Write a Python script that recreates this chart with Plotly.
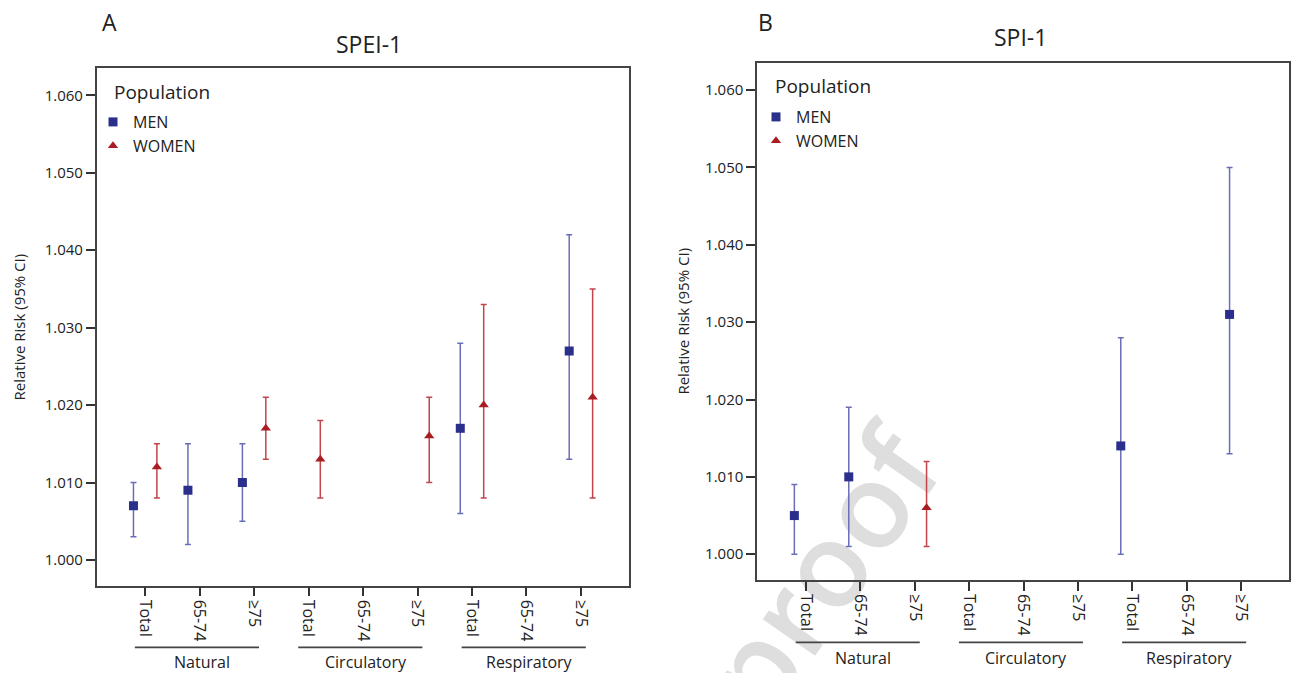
import plotly.graph_objects as go

W, H = 1291, 673

# x categories: age groups within each cause of death
tick_labels = ["Total", "65-74", "≥75"] * 3
groups = ["Natural", "Circulatory", "Respiratory"]
y_ticks = [1.000, 1.010, 1.020, 1.030, 1.040, 1.050, 1.060]

# Panel A: SPEI-1 (None = no estimate shown)
spei_men_rr = [1.007, 1.009, 1.010, None, None, None, 1.017, None, 1.027]
spei_men_lo = [1.003, 1.002, 1.005, None, None, None, 1.006, None, 1.013]
spei_men_hi = [1.010, 1.015, 1.015, None, None, None, 1.028, None, 1.042]
spei_women_rr = [1.012, None, 1.017, 1.013, None, 1.016, 1.020, None, 1.021]
spei_women_lo = [1.008, None, 1.013, 1.008, None, 1.010, 1.008, None, 1.008]
spei_women_hi = [1.015, None, 1.021, 1.018, None, 1.021, 1.033, None, 1.035]

# Panel B: SPI-1
spi_men_rr = [1.005, 1.010, None, None, None, None, 1.014, None, 1.031]
spi_men_lo = [1.000, 1.001, None, None, None, None, 1.000, None, 1.013]
spi_men_hi = [1.009, 1.019, None, None, None, None, 1.028, None, 1.050]
spi_women_rr = [None, None, 1.006, None, None, None, None, None, None]
spi_women_lo = [None, None, 1.001, None, None, None, None, None, None]
spi_women_hi = [None, None, 1.012, None, None, None, None, None, None]

FONT = "Open Sans"
LINE = "#444444"
MEN_MARK, MEN_BAR = "#2b2f8c", "#6a6eb8"
WOM_MARK, WOM_BAR = "#a81c22", "#c2454a"


def px_x(p):
    return p / W


def px_y(p):
    return 1 - p / H


def ci_trace(rr, lo, hi, offset, name, symbol, mark_col, bar_col, xa, ya, legend):
    idx = [i for i, v in enumerate(rr) if v is not None]
    return go.Scatter(
        x=[i + offset for i in idx],
        y=[rr[i] for i in idx],
        mode="markers",
        name=name,
        marker=dict(symbol=symbol, size=9, color=mark_col),
        error_y=dict(type="data", symmetric=False,
                     array=[hi[i] - rr[i] for i in idx],
                     arrayminus=[rr[i] - lo[i] for i in idx],
                     color=bar_col, thickness=1.5, width=3),
        xaxis=xa, yaxis=ya, legend=legend,
    )


fig = go.Figure()
fig.add_trace(ci_trace(spei_men_rr, spei_men_lo, spei_men_hi, -0.215, "MEN", "square",
                       MEN_MARK, MEN_BAR, "x", "y", "legend"))
fig.add_trace(ci_trace(spei_women_rr, spei_women_lo, spei_women_hi, 0.215, "WOMEN", "triangle-up",
                       WOM_MARK, WOM_BAR, "x", "y", "legend"))
fig.add_trace(ci_trace(spi_men_rr, spi_men_lo, spi_men_hi, -0.215, "MEN", "square",
                       MEN_MARK, MEN_BAR, "x2", "y2", "legend2"))
fig.add_trace(ci_trace(spi_women_rr, spi_women_lo, spi_women_hi, 0.215, "WOMEN", "triangle-up",
                       WOM_MARK, WOM_BAR, "x2", "y2", "legend2"))

axis = dict(showline=True, linecolor=LINE, linewidth=1.5, mirror=True,
            showgrid=False, zeroline=False, ticks="outside", ticklen=9,
            tickcolor="#333", tickwidth=1.5, automargin=False)
xcommon = dict(axis, tickvals=list(range(9)), ticktext=tick_labels,
               tickangle=90, tickfont=dict(size=16, color="#222"))
ycommon = dict(axis, range=[0.99667, 1.0635], tickvals=y_ticks, tickformat=".3f",
               tickfont=dict(size=15, color="#222"))

legend_common = dict(xanchor="left", yanchor="top", bgcolor="rgba(0,0,0,0)",
                     font=dict(size=16, color="#222"), tracegroupgap=0, itemwidth=30)

fig.update_layout(
    width=W, height=H,
    margin=dict(l=0, r=0, t=0, b=0),
    paper_bgcolor="white", plot_bgcolor="rgba(0,0,0,0)",
    font=dict(family=FONT, color="#222"),
    xaxis=dict(xcommon, range=[-0.89, 8.89], domain=[px_x(96.7), px_x(629.4)], anchor="y"),
    yaxis=dict(ycommon, domain=[px_y(585.7), px_y(68.3)], anchor="x"),
    xaxis2=dict(xcommon, range=[-0.9, 8.87], domain=[px_x(757.1), px_x(1288.6)], anchor="y2"),
    yaxis2=dict(ycommon, domain=[px_y(580), px_y(63)], anchor="x2"),
    legend=dict(legend_common, x=px_x(93), y=px_y(105)),
    legend2=dict(legend_common, x=px_x(756), y=px_y(100)),
    showlegend=True,
)

ann = []
shapes = []
# panel letters, titles, y axis titles, legend titles
for letter, lx, title, tx, ty, yx, yy, popx, popy in [
    ("A", 109, "SPEI-1", 369.4, 44.5, 18.5, 327, 111.7, 91.7),
    ("B", 765.6, "SPI-1", 1020, 36.7, 682.6, 321, 772.9, 86),
]:
    common = dict(xref="paper", yref="paper", showarrow=False, xanchor="center", yanchor="middle")
    ann.append(dict(common, text=letter, x=px_x(lx), y=px_y(22), font=dict(size=23)))
    ann.append(dict(common, text=title, x=px_x(tx), y=px_y(ty), font=dict(size=23)))
    ann.append(dict(common, text="Relative Risk (95% CI)", x=px_x(yx), y=px_y(yy),
                    textangle=-90, font=dict(size=15)))
    ann.append(dict(common, text="Population", x=px_x(popx), y=px_y(popy), xanchor="left",
                    font=dict(size=19)))

# cause-of-death group labels with lines underneath the tick labels
for xref, line_y, lab_y in [("x", 647.3, 661.5), ("x2", 642.3, 658)]:
    for g, name in enumerate(groups):
        c = g * 3 + 1 - 0.05
        shapes.append(dict(type="line", xref=xref, yref="paper", x0=c - 1.14, x1=c + 1.14,
                           y0=px_y(line_y), y1=px_y(line_y), line=dict(color=LINE, width=1.8)))
        ann.append(dict(text=name, x=c + 0.1, y=px_y(lab_y), xref=xref, yref="paper",
                        xanchor="center", yanchor="middle", showarrow=False,
                        font=dict(size=16)))

# journal watermark, kept beneath the data marks
shapes.append(dict(type="rect", xref="paper", yref="paper", layer="below",
                   x0=px_x(726), x1=px_x(926), y0=px_y(675), y1=px_y(475),
                   line=dict(width=0), fillcolor="rgba(0,0,0,0)",
                   label=dict(text="proof", textangle=-55, textposition="middle center",
                              font=dict(size=118, color="#dedede", family=FONT,
                                        weight=600))))

fig.update_layout(annotations=ann, shapes=shapes)

# drop the browser's default body margin so the figure fills the window exactly
fig.write_html("out.html", config={"displayModeBar": False},
               post_script="document.body.style.margin='0';document.body.style.overflow='hidden';")
